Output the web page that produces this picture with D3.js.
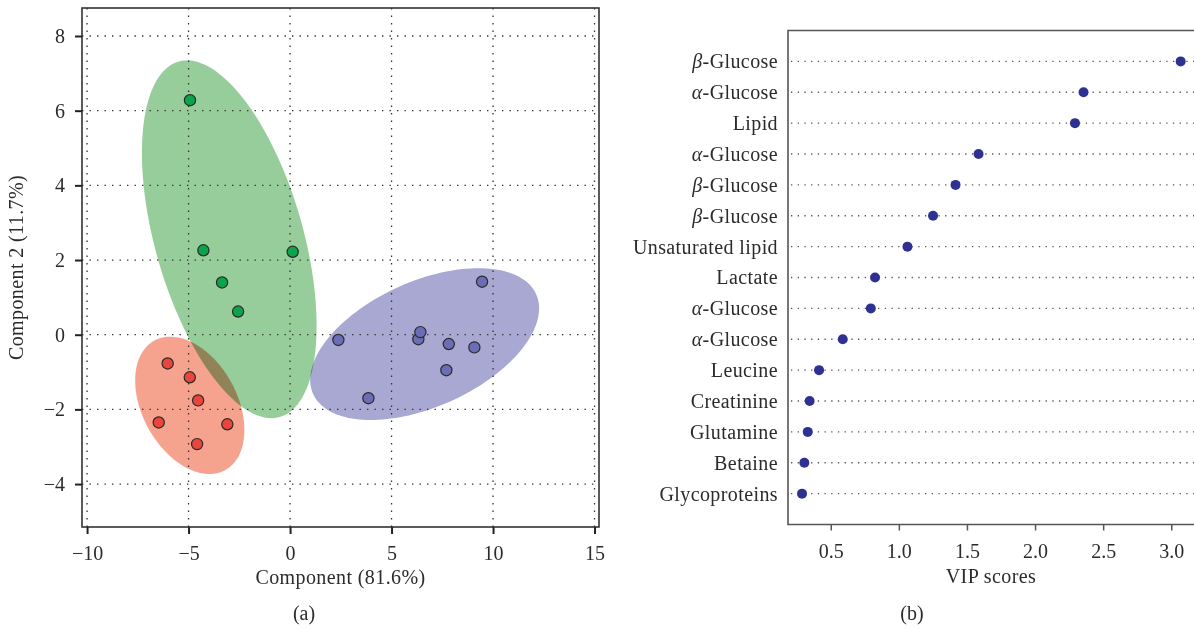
<!DOCTYPE html>
<html><head><meta charset="utf-8">
<script src="https://cdn.jsdelivr.net/npm/d3@7"></script>
<style>
body{margin:0;background:#fff}
text{font-family:"Liberation Serif","Times New Roman",serif;fill:#2b2b2b}
</style>
</head><body><svg id="c" width="1194" height="630"></svg>
<script>
// ---------- data: panel (a) PCA scores ----------
const greenX = [-4.93, -4.27, 0.13, -3.35, -2.56];
const greenY = [6.28, 2.26, 2.22, 1.40, 0.62];
const redX = [-6.03, -4.94, -4.53, -6.47, -3.09, -4.58];
const redY = [-0.77, -1.14, -1.76, -2.35, -2.40, -2.93];
const blueX = [2.38, 3.86, 6.32, 6.42, 7.82, 9.08, 7.70, 9.46];
const blueY = [-0.14, -1.70, -0.12, 0.07, -0.25, -0.34, -0.95, 1.42];
const xTicksA = [-10, -5, 0, 5, 10, 15];
const yTicksA = [-4, -2, 0, 2, 4, 6, 8];
// ---------- data: panel (b) VIP scores ----------
const metabolites = ["β-Glucose","α-Glucose","Lipid","α-Glucose","β-Glucose","β-Glucose","Unsaturated lipid","Lactate","α-Glucose","α-Glucose","Leucine","Creatinine","Glutamine","Betaine","Glycoproteins"];
const vipScores = [3.069, 2.356, 2.293, 1.585, 1.416, 1.251, 1.063, 0.825, 0.794, 0.588, 0.414, 0.345, 0.331, 0.306, 0.289];
const xTicksB = [0.5, 1.0, 1.5, 2.0, 2.5, 3.0];

const svg = d3.select("#c");
svg.append("rect").attr("width",1194).attr("height",630).attr("fill","#fff");

// ================= Panel (a) =================
const A = {l:82, r:599, t:8, b:527};
const xA = d3.scaleLinear().domain([-10.25, 15.22]).range([A.l, A.r]);
const yA = d3.scaleLinear().domain([-5.15, 8.75]).range([A.b, A.t]);
const gA = svg.append("g");

const K = Math.sqrt(-2 * Math.log(0.05)); // 95% confidence ellipse
function ellipsePts(xs, ys){
  const n = xs.length, mx = d3.mean(xs), my = d3.mean(ys);
  let sxx=0, syy=0, sxy=0;
  for (let i=0;i<n;i++){const dx=xs[i]-mx, dy=ys[i]-my; sxx+=dx*dx; syy+=dy*dy; sxy+=dx*dy;}
  sxx/=n; syy/=n; sxy/=n;
  const tr=sxx+syy, det=sxx*syy-sxy*sxy, disc=Math.sqrt(Math.max(0,tr*tr/4-det));
  const l1=tr/2+disc, l2=tr/2-disc;
  let vx, vy;
  if (Math.abs(sxy)>1e-12){vx=l1-syy; vy=sxy;} else {vx=sxx>=syy?1:0; vy=sxx>=syy?0:1;}
  const nr=Math.hypot(vx,vy); vx/=nr; vy/=nr;
  const a=K*Math.sqrt(l1), b=K*Math.sqrt(Math.max(0,l2));
  return d3.range(160).map(i=>{const t=i/160*2*Math.PI; const c=Math.cos(t)*a, s=Math.sin(t)*b;
    return [mx + c*vx - s*vy, my + c*vy + s*vx];});
}
const groups = [
  {xs: blueX, ys: blueY, fill:"#a8a8d2", pt:"#6b6db7"},
  {xs: greenX, ys: greenY, fill:"#96cd9b", pt:"#0ba44c"},
  {xs: redX, ys: redY, fill:"#f5a38f", pt:"#e8463c"}
];
const lineA = d3.line().x(d=>xA(d[0])).y(d=>yA(d[1])).curve(d3.curveLinearClosed);
groups.forEach(g=>{
  gA.append("path").attr("d", lineA(ellipsePts(g.xs, g.ys)))
    .attr("fill", g.fill).style("mix-blend-mode","multiply");
});

// grid
gA.selectAll(".vg").data(xTicksA).join("line")
  .attr("x1", d=>xA(d)).attr("x2", d=>xA(d)).attr("y1", A.t).attr("y2", A.b)
  .attr("stroke","#333").attr("stroke-width",1.3).attr("stroke-dasharray","1.4,6.1");
gA.selectAll(".hg").data(yTicksA).join("line")
  .attr("y1", d=>yA(d)).attr("y2", d=>yA(d)).attr("x1", A.l).attr("x2", A.r)
  .attr("stroke","#333").attr("stroke-width",1.3).attr("stroke-dasharray","1.4,6.1");

// points
groups.forEach(g=>{
  gA.selectAll(null).data(g.xs.map((x,i)=>[x,g.ys[i]])).join("circle")
    .attr("cx", d=>xA(d[0])).attr("cy", d=>yA(d[1])).attr("r",5.6)
    .attr("fill", g.pt).attr("stroke","#2a2a2a").attr("stroke-width",1.2);
});

// frame
gA.append("rect").attr("x",A.l).attr("y",A.t).attr("width",A.r-A.l).attr("height",A.b-A.t)
  .attr("fill","none").attr("stroke","#333").attr("stroke-width",1.6);

// axes
const axBA = gA.append("g").attr("transform",`translate(0,${A.b})`)
  .call(d3.axisBottom(xA).tickValues(xTicksA).tickSize(7).tickPadding(12).tickSizeOuter(0));
const axLA = gA.append("g").attr("transform",`translate(${A.l},0)`)
  .call(d3.axisLeft(yA).tickValues(yTicksA).tickSize(7).tickPadding(10).tickSizeOuter(0));
[axBA, axLA].forEach(ax=>{
  ax.select(".domain").remove();
  ax.selectAll(".tick line").attr("stroke","#222").attr("stroke-width",2);
  ax.selectAll(".tick text").attr("font-size",20).attr("fill","#2b2b2b")
    .attr("font-family",'"Liberation Serif",serif');
});

svg.append("text").attr("x",(A.l+A.r)/2).attr("y",584).attr("text-anchor","middle")
  .attr("font-size",20).attr("letter-spacing",0.4).text("Component (81.6%)");
svg.append("text").attr("transform",`translate(23,${(A.t+A.b)/2}) rotate(-90)`).attr("text-anchor","middle")
  .attr("font-size",20).attr("letter-spacing",0.4).text("Component 2 (11.7%)");
svg.append("text").attr("x",304).attr("y",620).attr("text-anchor","middle")
  .attr("font-size",20).text("(a)");

// ================= Panel (b) =================
const B = {l:788, r:1194, t:30.5, b:524.5};
const xB = d3.scaleLinear().domain([0.186, 3.167]).range([B.l, B.r]);
const yB = d3.scalePoint().domain(d3.range(metabolites.length)).range([B.t, B.b]).padding(1);
const gB = svg.append("g");

gB.selectAll(".rl").data(d3.range(metabolites.length)).join("line")
  .attr("x1", B.l+3).attr("x2", B.r).attr("y1", d=>yB(d)).attr("y2", d=>yB(d))
  .attr("stroke","#555").attr("stroke-width",1.3).attr("stroke-dasharray","1.3,5.4");

gB.selectAll(".dot").data(vipScores).join("circle")
  .attr("cx", d=>xB(d)).attr("cy", (d,i)=>yB(i)).attr("r",5)
  .attr("fill","#2e3192");

// spines (top, left, bottom)
gB.append("path").attr("d",`M${B.r},${B.t}H${B.l}V${B.b}H${B.r}`)
  .attr("fill","none").attr("stroke","#555").attr("stroke-width",1.6);

const axBB = gB.append("g").attr("transform",`translate(0,${B.b})`)
  .call(d3.axisBottom(xB).tickValues(xTicksB).tickFormat(d3.format(".1f")).tickSize(6).tickPadding(13).tickSizeOuter(0));
axBB.select(".domain").remove();
axBB.selectAll(".tick line").attr("stroke","#555").attr("stroke-width",1.5);
axBB.selectAll(".tick text").attr("font-size",20).attr("fill","#2b2b2b").attr("font-family",'"Liberation Serif",serif');

const axLB = gB.append("g").attr("transform",`translate(${B.l},0)`)
  .call(d3.axisLeft(yB).tickSize(0).tickPadding(10).tickFormat(i=>metabolites[i]));
axLB.select(".domain").remove();
axLB.selectAll(".tick text").attr("font-size",20).attr("fill","#2b2b2b")
  .attr("font-family",'"Liberation Serif",serif').attr("letter-spacing",0.4)
  .each(function(i){
    const s = metabolites[i], t = d3.select(this);
    t.text(null);
    if (s[0]==="α" || s[0]==="β"){
      t.append("tspan").attr("font-style","italic").text(s[0]);
      t.append("tspan").text(s.slice(1));
    } else t.text(s);
  });

svg.append("text").attr("x",(B.l+B.r)/2).attr("y",583).attr("text-anchor","middle")
  .attr("font-size",20).attr("letter-spacing",0.4).text("VIP scores");
svg.append("text").attr("x",912).attr("y",620).attr("text-anchor","middle")
  .attr("font-size",20).text("(b)");
</script>
</body></html>
